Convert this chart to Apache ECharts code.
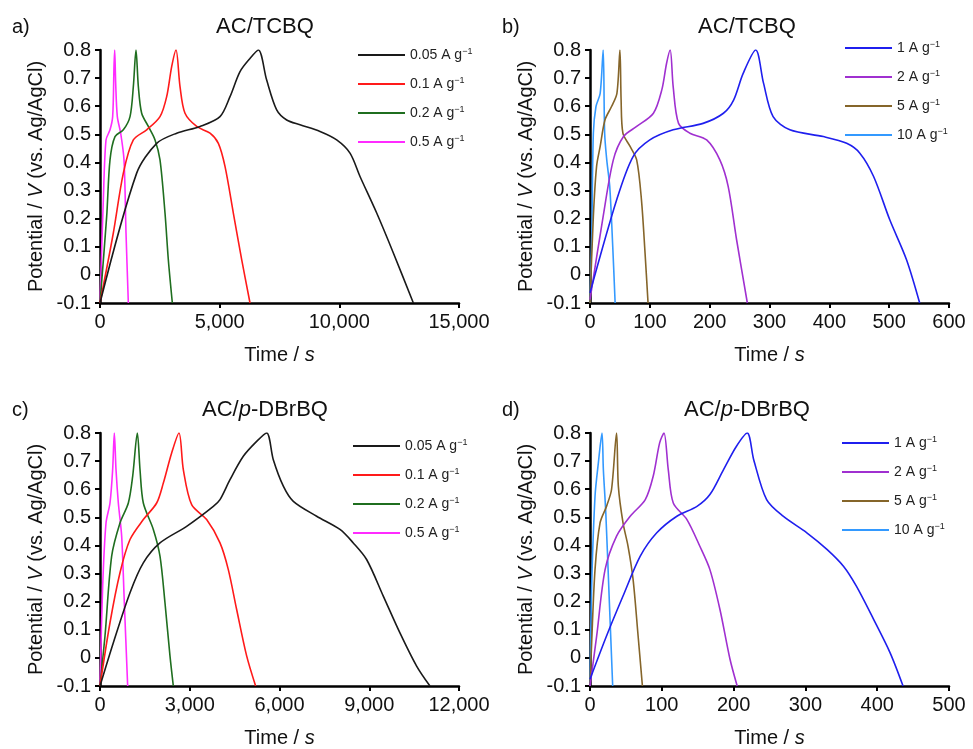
<!DOCTYPE html>
<html>
<head>
<meta charset="utf-8">
<script src="https://cdn.jsdelivr.net/npm/echarts@6/dist/echarts.min.js"></script>
<style>html,body{margin:0;padding:0;background:#fff}#c{width:973px;height:749px}</style>
</head>
<body>
<div id="c"></div>
<script>
// ---------- Panel a: AC/TCBQ, low current densities ----------
const a_labels = ['0.05', '0.1', '0.2', '0.5'];
const a_t_005 = [0, 1532, 2368, 3204, 4179, 5014, 5432, 5850, 6268, 6616, 6964, 7382, 7800, 8357, 9193, 9889, 10446, 10864, 11561, 12257, 13093];
const a_v_005 = [-0.1, 0.362, 0.468, 0.504, 0.528, 0.563, 0.634, 0.723, 0.77, 0.8, 0.693, 0.587, 0.551, 0.534, 0.51, 0.48, 0.433, 0.35, 0.22, 0.078, -0.1];
const a_t_01 = [0, 557, 975, 1393, 1950, 2507, 2786, 2995, 3176, 3343, 3552, 4040, 4597, 4945, 5223, 5571, 5920, 6268];
const a_v_01 = [-0.1, 0.149, 0.362, 0.48, 0.516, 0.563, 0.634, 0.741, 0.8, 0.67, 0.575, 0.528, 0.504, 0.468, 0.386, 0.22, 0.054, -0.1];
const a_t_02 = [0, 279, 418, 627, 975, 1254, 1393, 1504, 1602, 1741, 2020, 2299, 2507, 2716, 2855, 3023];
const a_v_02 = [-0.1, 0.208, 0.409, 0.492, 0.516, 0.563, 0.67, 0.8, 0.67, 0.575, 0.528, 0.48, 0.409, 0.22, 0.054, -0.1];
const a_t_05 = [0, 139, 251, 418, 529, 585, 613, 655, 724, 864, 1003, 1087, 1184];
const a_v_05 = [-0.1, 0.267, 0.48, 0.516, 0.563, 0.741, 0.8, 0.682, 0.563, 0.504, 0.409, 0.149, -0.1];

// ---------- Panel b: AC/TCBQ, high current densities ----------
const b_labels = ['1', '2', '5', '10'];
const b_t_1 = [0, 44.6, 72, 100, 139, 189, 223, 240, 256, 277, 290, 306, 334, 390, 429, 451, 474, 501, 529, 551];
const b_v_1 = [-0.064, 0.267, 0.421, 0.48, 0.516, 0.539, 0.575, 0.622, 0.717, 0.8, 0.682, 0.563, 0.516, 0.492, 0.468, 0.433, 0.35, 0.196, 0.054, -0.1];
const b_t_2 = [0, 22, 39, 56, 78, 106, 120, 128, 134, 139, 148, 167, 195, 217, 231, 245, 263];
const b_v_2 = [-0.088, 0.208, 0.409, 0.492, 0.528, 0.575, 0.658, 0.753, 0.8, 0.67, 0.539, 0.504, 0.48, 0.409, 0.314, 0.125, -0.1];
const b_t_5 = [0, 5.6, 11, 17, 25, 36, 45, 50, 52, 55, 67, 78, 86, 92, 97];
const b_v_5 = [-0.1, 0.208, 0.386, 0.457, 0.551, 0.599, 0.646, 0.8, 0.622, 0.504, 0.457, 0.409, 0.267, 0.078, -0.1];
const b_t_10 = [0, 3, 5.6, 10, 17, 22, 24.5, 28, 33, 38, 42];
const b_v_10 = [-0.1, 0.149, 0.504, 0.599, 0.646, 0.8, 0.504, 0.409, 0.314, 0.101, -0.1];

// ---------- Panel c: AC/p-DBrBQ, low current densities ----------
const c_labels = ['0.05', '0.1', '0.2', '0.5'];
const c_t_005 = [0, 446, 1003, 1448, 2005, 2896, 3788, 4011, 4345, 4790, 5236, 5570, 5793, 6128, 6462, 7242, 8021, 8466, 8912, 9469, 10026, 10583, 11029];
const c_v_005 = [-0.1, 0.054, 0.232, 0.338, 0.409, 0.468, 0.539, 0.563, 0.634, 0.717, 0.77, 0.8, 0.705, 0.611, 0.557, 0.504, 0.457, 0.409, 0.35, 0.22, 0.089, -0.029, -0.1];
const c_t_01 = [0, 334, 668, 1003, 1448, 1894, 2117, 2395, 2640, 2785, 3064, 3565, 4011, 4289, 4568, 4902, 5202];
const c_v_01 = [-0.1, 0.125, 0.303, 0.421, 0.492, 0.551, 0.622, 0.729, 0.8, 0.67, 0.545, 0.492, 0.409, 0.314, 0.172, 0.007, -0.1];
const c_t_02 = [0, 167, 390, 668, 947, 1092, 1248, 1337, 1448, 1782, 2005, 2172, 2339, 2451];
const c_v_02 = [-0.1, 0.078, 0.362, 0.48, 0.551, 0.646, 0.8, 0.67, 0.551, 0.457, 0.362, 0.196, 0.007, -0.1];
const c_t_05 = [0, 89, 201, 334, 423, 479, 535, 613, 724, 813, 925];
const c_v_05 = [-0.1, 0.255, 0.48, 0.551, 0.67, 0.8, 0.67, 0.551, 0.433, 0.196, -0.1];

// ---------- Panel d: AC/p-DBrBQ, high current densities ----------
const d_labels = ['1', '2', '5', '10'];
const d_t_1 = [0, 23, 46, 70, 93, 121, 149, 167, 186, 204, 219, 228, 246, 269, 302, 330, 353, 371, 395, 418, 436];
const d_v_1 = [-0.076, 0.078, 0.22, 0.362, 0.445, 0.504, 0.539, 0.581, 0.67, 0.753, 0.8, 0.705, 0.563, 0.504, 0.445, 0.386, 0.326, 0.255, 0.137, 0.018, -0.1];
const d_t_2 = [0, 9.3, 21, 37, 56, 77, 88, 97, 103, 109, 116, 135, 153, 167, 181, 195, 205];
const d_v_2 = [-0.1, 0.078, 0.314, 0.433, 0.504, 0.563, 0.646, 0.765, 0.8, 0.67, 0.551, 0.492, 0.397, 0.314, 0.172, -0.005, -0.1];
const d_t_5 = [0, 2.3, 7, 14, 23, 30, 37, 39.5, 46, 53, 60, 67, 73];
const d_v_5 = [-0.1, 0.054, 0.314, 0.48, 0.539, 0.599, 0.8, 0.61, 0.48, 0.397, 0.279, 0.078, -0.1];
const d_t_10 = [0, 2.3, 7, 11.6, 16.7, 18.6, 22, 27, 31.6];
const d_v_10 = [-0.1, 0.255, 0.575, 0.693, 0.8, 0.67, 0.516, 0.196, -0.1];

// ---------- Axis settings ----------
const yTicks = { min: -0.1, max: 0.8, interval: 0.1 };
const xAxesMax = [15000, 600, 12000, 500];
const xAxesInterval = [5000, 100, 3000, 100];
const panelTitles = ['AC/TCBQ', 'AC/TCBQ', 'AC/p-DBrBQ', 'AC/p-DBrBQ'];
const panelLetters = ['a)', 'b)', 'c)', 'd)'];

const lowColors = ['#1a1a1a', '#ff1a1a', '#1f6e1f', '#ff2bff'];
const highColors = ['#1f1fee', '#a030d0', '#85652a', '#3399ff'];

const zip = (t, v) => t.map((x, i) => [x, v[i]]);

const panels = [
  { labels: a_labels, colors: lowColors, data: [zip(a_t_005, a_v_005), zip(a_t_01, a_v_01), zip(a_t_02, a_v_02), zip(a_t_05, a_v_05)] },
  { labels: b_labels, colors: highColors, data: [zip(b_t_1, b_v_1), zip(b_t_2, b_v_2), zip(b_t_5, b_v_5), zip(b_t_10, b_v_10)] },
  { labels: c_labels, colors: lowColors, data: [zip(c_t_005, c_v_005), zip(c_t_01, c_v_01), zip(c_t_02, c_v_02), zip(c_t_05, c_v_05)] },
  { labels: d_labels, colors: highColors, data: [zip(d_t_1, d_v_1), zip(d_t_2, d_v_2), zip(d_t_5, d_v_5), zip(d_t_10, d_v_10)] }
];

// layout (pixels)
const grids = [
  { left: 100, top: 50, width: 359, height: 253 },
  { left: 590, top: 50, width: 359, height: 253 },
  { left: 100, top: 433, width: 359, height: 254 },
  { left: 590, top: 433, width: 359, height: 254 }
];
const legendPos = [
  { left: 353, top: 42, gap: 14 },
  { left: 840, top: 35, gap: 14 },
  { left: 348, top: 433, gap: 14 },
  { left: 837, top: 430, gap: 14 }
];
const titlePos = [
  { x: 265, y: 27 }, { x: 747, y: 27 }, { x: 265, y: 410 }, { x: 747, y: 410 }
];
const letterPos = [
  { x: 12, y: 27 }, { x: 502, y: 27 }, { x: 12, y: 410 }, { x: 502, y: 410 }
];

const FONT = '"Liberation Sans", Arial, sans-serif';
const nameMap = {};

const option = {
  animation: false,
  backgroundColor: '#fff',
  textStyle: { fontFamily: FONT },
  grid: grids.map(g => Object.assign({ containLabel: false }, g)),
  xAxis: grids.map((g, i) => ({
    type: 'value', gridIndex: i, min: 0, max: xAxesMax[i], interval: xAxesInterval[i],
    name: '{n|Time / }{i|s}', nameLocation: 'middle', nameGap: 42,
    nameTextStyle: { rich: { n: { fontSize: 20, fontFamily: FONT, color: '#111' }, i: { fontSize: 20, fontStyle: 'italic', fontFamily: FONT, color: '#111' } } },
    axisLine: { show: true, onZero: false, lineStyle: { color: '#000', width: 2.5 } },
    axisTick: { show: true, length: 5, lineStyle: { color: '#000', width: 2 } },
    splitLine: { show: false },
    axisLabel: {
      fontSize: 20, color: '#111', margin: 9, fontFamily: FONT, showMaxLabel: true,
      formatter: v => Math.round(v).toLocaleString('en-US')
    }
  })),
  yAxis: grids.map((g, i) => ({
    type: 'value', gridIndex: i, min: yTicks.min, max: yTicks.max, interval: yTicks.interval,
    name: '{n|Potential / }{i|V}{n| (vs. Ag/AgCl)}', nameLocation: 'middle', nameGap: 54,
    nameTextStyle: { rich: { n: { fontSize: 20, fontFamily: FONT, color: '#111' }, i: { fontSize: 20, fontStyle: 'italic', fontFamily: FONT, color: '#111' } } },
    axisLine: { show: true, onZero: false, lineStyle: { color: '#000', width: 2.5 } },
    axisTick: { show: true, length: 5, lineStyle: { color: '#000', width: 2 } },
    splitLine: { show: false },
    axisLabel: {
      fontSize: 20, color: '#111', margin: 9, fontFamily: FONT,
      formatter: v => { const r = Math.round(v * 10) / 10; return r === 0 ? '0' : r.toFixed(1); }
    }
  })),
  legend: panels.map((p, i) => {
    const names = p.labels.map((l, k) => 'p' + i + '_' + k);
    p.labels.forEach((l, k) => { nameMap['p' + i + '_' + k] = l; });
    return {
      orient: 'vertical', left: legendPos[i].left, top: legendPos[i].top,
      itemGap: legendPos[i].gap, itemWidth: 47, itemHeight: 2, icon: 'rect',
      selectedMode: false,
      data: names,
      formatter: n => '{n|' + nameMap[n] + ' A g}{s|−1}',
      textStyle: {
        fontFamily: FONT, color: '#222',
        rich: {
          n: { fontSize: 14, fontFamily: FONT, color: '#222', lineHeight: 16 },
          s: { fontSize: 9, fontFamily: FONT, color: '#222', verticalAlign: 'top', lineHeight: 16, padding: [0, 0, 5, 0] }
        }
      }
    };
  }),
  graphic: [].concat(
    panelTitles.map((t, i) => ({
      type: 'text', x: titlePos[i].x, y: titlePos[i].y,
      style: {
        text: t.indexOf('/p-') >= 0 ? '{n|AC/}{i|p}{n|-DBrBQ}' : '{n|' + t + '}',
        align: 'center', verticalAlign: 'middle',
        rich: {
          n: { fontSize: 22, fontFamily: FONT, fill: '#111' },
          i: { fontSize: 22, fontStyle: 'italic', fontFamily: FONT, fill: '#111' }
        }
      }
    })),
    panelLetters.map((t, i) => ({
      type: 'text', x: letterPos[i].x, y: letterPos[i].y,
      style: { text: t, fontSize: 20, fontFamily: FONT, fill: '#111', align: 'left', verticalAlign: 'middle' }
    }))
  ),
  series: [].concat(...panels.map((p, i) => p.data.map((d, k) => ({
    type: 'line', name: 'p' + i + '_' + k, xAxisIndex: i, yAxisIndex: i,
    data: d, showSymbol: false, symbol: 'none', smooth: 0.3,
    lineStyle: { color: p.colors[k], width: 1.6 }, itemStyle: { color: p.colors[k] },
    z: 5 - k
  }))))
};

const chart = echarts.init(document.getElementById('c'), null, { renderer: 'canvas' });
chart.setOption(option);
</script>
</body>
</html>
